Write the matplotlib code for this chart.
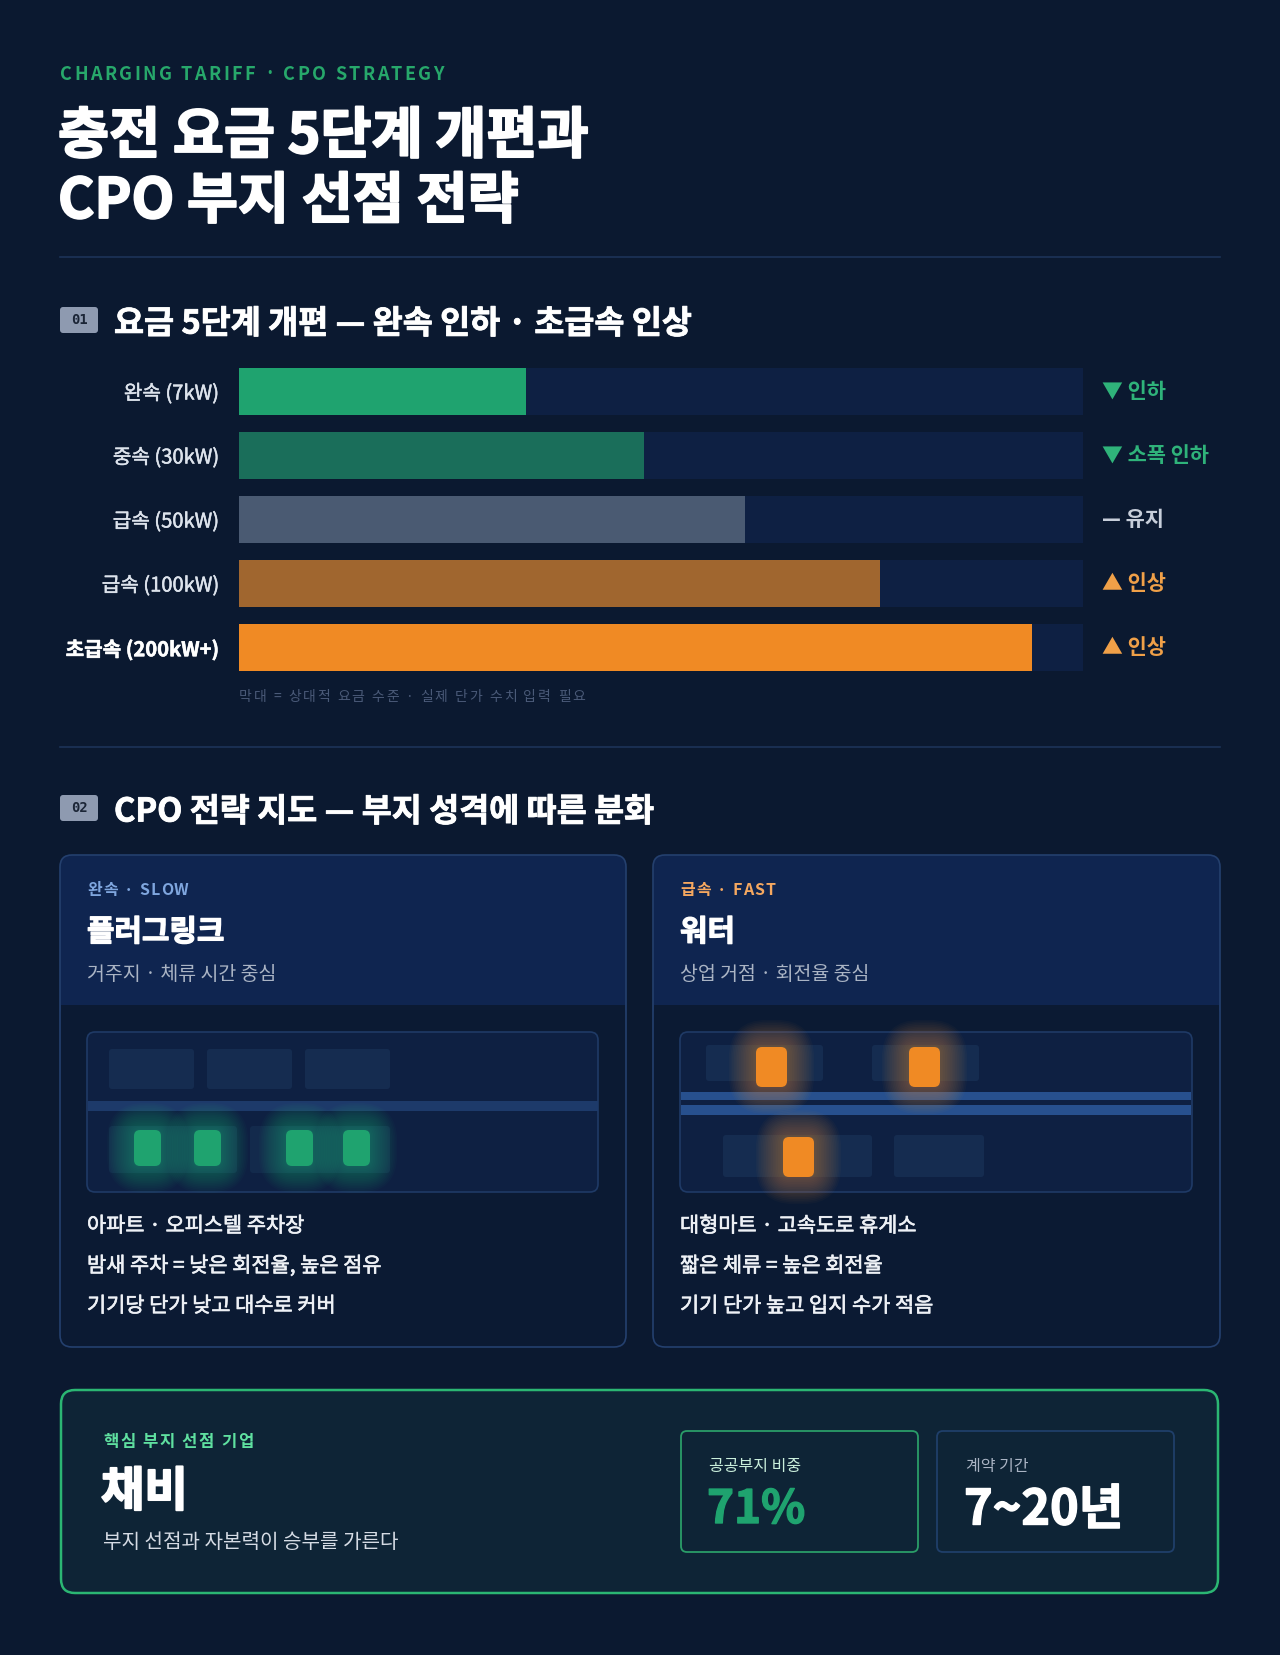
import matplotlib
matplotlib.use('Agg')
import matplotlib.pyplot as plt
import matplotlib.patheffects as pe
from matplotlib.patches import FancyBboxPatch, Rectangle

plt.rcParams['font.family'] = ['Noto Sans CJK KR', 'DejaVu Sans']

# ---- data ----
tiers = ['완속 (7kW)', '중속 (30kW)', '급속 (50kW)', '급속 (100kW)', '초급속 (200kW+)']
levels = [34, 48, 60, 76, 94]          # relative tariff level (% of track)
bar_colors = ['#1fa36f', '#1a6e5a', '#4a5a72', '#a0662f', '#f08a24']
status = ['▼ 인하', '▼ 소폭 인하', '— 유지', '▲ 인상', '▲ 인상']
status_colors = ['#2fb37a', '#2fb37a', '#c7ceda', '#f0a048', '#f0a048']

slow_bullets = ['아파트 · 오피스텔 주차장', '밤새 주차 = 낮은 회전율, 높은 점유', '기기당 단가 낮고 대수로 커버']
fast_bullets = ['대형마트 · 고속도로 휴게소', '짧은 체류 = 높은 회전율', '기기 단가 높고 입지 수가 적음']
public_share = '71%'
contract_term = '7~20년'

BG = '#0b1930'
W, H = 1280, 1655

fig = plt.figure(figsize=(W / 100, H / 100), dpi=100, facecolor=BG)
ax = fig.add_axes([0, 0, 1, 1])
ax.set_xlim(0, W)
ax.set_ylim(H, 0)
ax.axis('off')
ax.set_facecolor(BG)
renderer = fig.canvas.get_renderer()


def pt(px):
    return px * 0.72


def thick(color, w=0.6):
    return [pe.withStroke(linewidth=w, foreground=color)]


def rbox(x0, y0, x1, y1, r, fc, ec='none', lw=0, z=1, alpha=1):
    p = FancyBboxPatch((x0, y0), x1 - x0, y1 - y0,
                       boxstyle=f'round,pad=0,rounding_size={r}',
                       fc=fc, ec=ec, lw=lw, zorder=z, alpha=alpha)
    ax.add_patch(p)
    return p


_wcache = {}


def char_w(ch, kw):
    kk = {k: v for k, v in kw.items() if k != 'path_effects'}
    key = (ch, tuple(sorted((k, str(v)) for k, v in kk.items())))
    if key not in _wcache:
        t1 = ax.text(0, 0, 'x' + ch + 'x', **kk)
        t2 = ax.text(0, 0, 'xx', **kk)
        _wcache[key] = t1.get_window_extent(renderer).width - t2.get_window_extent(renderer).width
        t1.remove()
        t2.remove()
    return _wcache[key]


def spaced(x, y, s, spacing, **kw):
    cur = x
    for ch in s:
        ax.text(cur, y, ch, ha='left', va='center', **kw)
        cur += char_w(ch, kw) + spacing


# ---- header ----
spaced(60, 74, 'CHARGING TARIFF · CPO STRATEGY', 2.4,
       fontsize=13, fontweight='bold', color='#27a86b')
ax.text(58, 137, '충전 요금 5단계 개편과', fontsize=40, fontweight='heavy',
        color='white', va='center', ha='left', path_effects=thick('white', 1.4))
ax.text(58, 202, 'CPO 부지 선점 전략', fontsize=40, fontweight='heavy',
        color='white', va='center', ha='left', path_effects=thick('white', 1.4))
ax.plot([60, 1220], [257, 257], color='#1c3358', lw=1.2)


def section(y, num, title):
    rbox(60, y - 13, 98, y + 13, 3, '#8e9ab0', z=2)
    ax.text(79, y, num, fontsize=10, fontweight='bold', family='DejaVu Sans Mono',
            color='#1b2536', ha='center', va='center', zorder=3)
    ax.text(114, y + 4, title, fontsize=23.5, fontweight='bold', color='white',
            ha='left', va='center', path_effects=thick('white', 0.6))


section(320, '01', '요금 5단계 개편 — 완속 인하 · 초급속 인상')

# ---- bar chart ----
bx = fig.add_axes([239 / W, 1 - 671 / H, 844 / W, 303 / H])
bx.set_facecolor('none')
ypos = list(range(len(tiers)))
bh = 0.734
bx.barh(ypos, [100] * len(tiers), height=bh, color='#0e2043', zorder=1)
bx.barh(ypos, levels, height=bh, color=bar_colors, zorder=2)
bx.set_xlim(0, 100)
bx.set_ylim(len(tiers) - 1 + bh / 2, -bh / 2)
for s in bx.spines.values():
    s.set_visible(False)
bx.set_xticks([])
bx.set_yticks(ypos)
bx.set_yticklabels(tiers)
bx.tick_params(axis='y', length=0, pad=pt(20), labelsize=14.5, labelcolor='#dde3ec')
for i, lab in enumerate(bx.get_yticklabels()):
    if i == len(tiers) - 1:
        lab.set_fontweight('bold')
        lab.set_color('white')
        lab.set_path_effects(thick('white', 0.4))
    else:
        lab.set_path_effects(thick('#dde3ec', 0.35))
for i, (s, c) in enumerate(zip(status, status_colors)):
    bx.text(1.0225, i, s, transform=bx.get_yaxis_transform(), fontsize=15,
            fontweight='bold', color=c, ha='left', va='center')

spaced(239, 697, '막대 = 상대적 요금 수준 · 실제 단가 수치 입력 필요', 1.9,
       fontsize=10, color='#4a5a78')
ax.plot([60, 1220], [747, 747], color='#1c3358', lw=1.2)

section(808, '02', 'CPO 전략 지도 — 부지 성격에 따른 분화')


# ---- strategy cards ----
def card(x0, x1, tag, tag_color, name, sub, bullets):
    y0, y1, yh = 855, 1347, 1005
    rbox(x0, y0, x1, y1, 12, '#0b1a33', z=1)
    rbox(x0, y0, x1, yh + 14, 12, '#0f2550', z=1.1)
    ax.add_patch(Rectangle((x0 + 1, yh), x1 - x0 - 2, 16, fc='#0b1a33', ec='none', zorder=1.2))
    rbox(x0, y0, x1, y1, 12, 'none', ec='#24406e', lw=1.2, z=5)
    tx = x0 + 27
    spaced(tx, 890, tag, 1.2, fontsize=11.5, fontweight='bold', color=tag_color, zorder=3)
    ax.text(tx, 932, name, fontsize=21.5, fontweight='heavy', color='white',
            ha='left', va='center', zorder=3, path_effects=thick('white', 0.9))
    ax.text(tx, 975, sub, fontsize=14, color='#aab4c4', ha='left', va='center', zorder=3)
    # map box
    rbox(tx, 1032, x1 - 28, 1192, 8, '#0e2042', ec='#1f3a66', lw=1.2, z=2)
    for j, b in enumerate(bullets):
        ax.text(tx, 1226 + 40 * j, b, fontsize=15, color='#eef1f6',
                ha='left', va='center', zorder=3, path_effects=thick('#eef1f6', 0.45))
    return tx


def charger(x, y, w, h, color, glow):
    for k in range(16, 0, -1):
        g = k * 1.7
        rbox(x - g, y - g, x + w + g, y + h + g, 6 + g * 1.2, glow, z=3, alpha=0.028)
    rbox(x, y, x + w, y + h, 6, color, z=4)


tx = card(60, 626, '완속 · SLOW', '#7fa6de', '플러그링크', '거주지 · 체류 시간 중심', slow_bullets)
for a, b in [(109, 194), (207, 292), (305, 390)]:
    rbox(a, 1049, b, 1089, 3, '#152c50', z=2.5)
ax.add_patch(Rectangle((88, 1101), 510, 10, fc='#1d3a6a', ec='none', zorder=2.5))
for a, b in [(109, 237), (250, 390)]:
    rbox(a, 1126, b, 1173, 3, '#132a4c', z=2.5)
for cx in [134, 194, 286, 343]:
    charger(cx, 1130, 27, 36, '#1fa36f', '#2fd08a')

tx = card(653, 1220, '급속 · FAST', '#f5a860', '워터', '상업 거점 · 회전율 중심', fast_bullets)
for a, b in [(706, 823), (872, 979)]:
    rbox(a, 1045, b, 1081, 3, '#152c50', z=2.5)
ax.add_patch(Rectangle((681, 1092), 510, 8, fc='#27508e', ec='none', zorder=2.5))
ax.add_patch(Rectangle((681, 1105), 510, 10, fc='#27508e', ec='none', zorder=2.5))
for a, b in [(723, 872), (894, 984)]:
    rbox(a, 1135, b, 1177, 3, '#152c50', z=2.5)
for cx, cy in [(756, 1047), (909, 1047), (783, 1137)]:
    charger(cx, cy, 31, 40, '#f08a24', '#ffa040')

# ---- bottom highlight ----
rbox(61, 1390, 1218, 1593, 14, '#0e2436', ec='#2bb673', lw=1.8, z=1)
spaced(103, 1442, '핵심 부지 선점 기업', 1.6, fontsize=12, fontweight='bold', color='#5fe0a0')
ax.text(101, 1492, '채비', fontsize=34, fontweight='heavy', color='white',
        ha='left', va='center', path_effects=thick('white', 1.4))
ax.text(103, 1543, '부지 선점과 자본력이 승부를 가른다', fontsize=14.5, color='#d5dbe4',
        ha='left', va='center')

rbox(681, 1431, 918, 1552, 6, '#0e2436', ec='#2a9d68', lw=1.3, z=2)
ax.text(709, 1466, '공공부지 비중', fontsize=11.5, color='#c9eedb', ha='left', va='center', zorder=3)
ax.text(707, 1510, public_share, fontsize=33, fontweight='heavy', color='#1fa36f',
        ha='left', va='center', zorder=3, path_effects=thick('#1fa36f', 1.0))
rbox(937, 1431, 1174, 1552, 6, '#0e2436', ec='#1f3f6a', lw=1.3, z=2)
ax.text(966, 1466, '계약 기간', fontsize=11.5, color='#aab4c4', ha='left', va='center', zorder=3)
ax.text(964, 1510, contract_term, fontsize=35, fontweight='heavy', color='white',
        ha='left', va='center', zorder=3, path_effects=thick('white', 1.0))

fig.savefig('out.png', dpi=100, facecolor=BG)
